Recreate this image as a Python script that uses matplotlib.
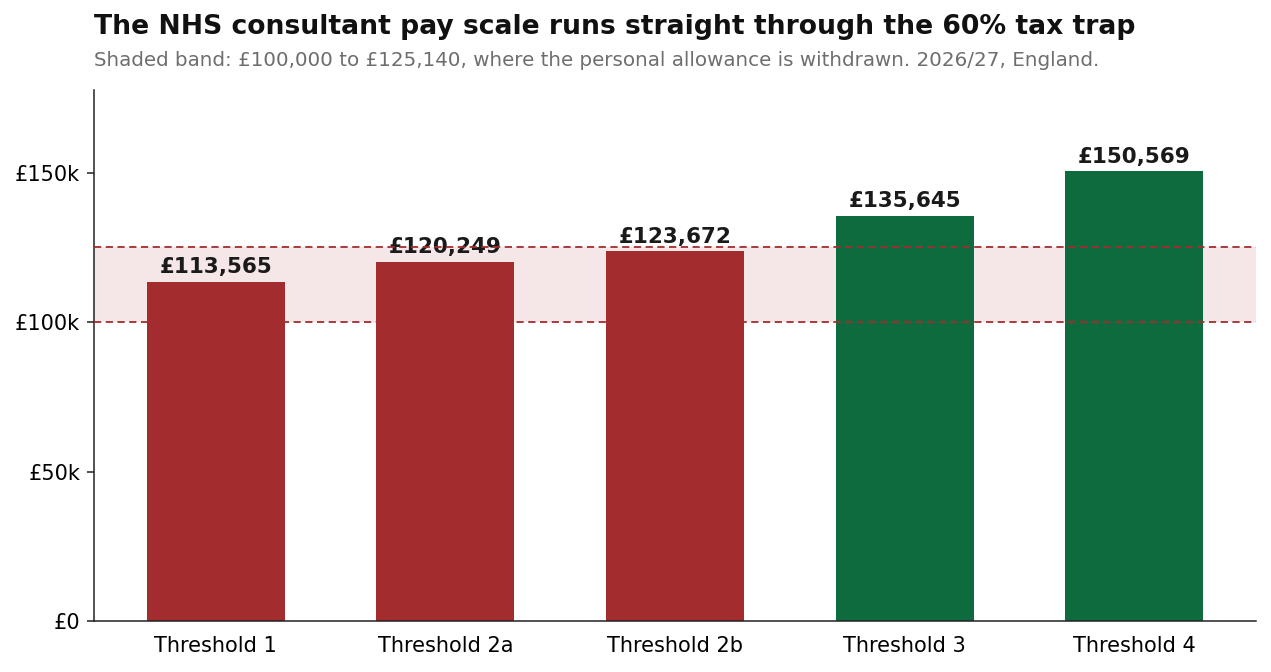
import matplotlib
matplotlib.use('agg')
import matplotlib.pyplot as plt
from matplotlib.ticker import FuncFormatter

thresholds = ['Threshold 1', 'Threshold 2a', 'Threshold 2b', 'Threshold 3', 'Threshold 4']
pay = [113565, 120249, 123672, 135645, 150569]
band_low = 100000
band_high = 125140

RED = '#a32c2f'
GREEN = '#0e6b3e'


def main():
    plt.rcParams['font.family'] = ['DejaVu Sans']
    fig = plt.figure(figsize=(12.71, 6.72), dpi=100)
    ax = fig.add_axes([94 / 1271, 1 - 621 / 672, (1256 - 94) / 1271, (621 - 90) / 672])

    colours = [RED if v <= band_high else GREEN for v in pay]
    x = list(range(len(pay)))
    ax.bar(x, pay, width=0.6, color=colours, zorder=2)

    ax.axhspan(band_low, band_high, color='#f5e6e7', zorder=1, lw=0)
    for y in (band_low, band_high):
        ax.axhline(y, color=RED, ls=(0, (4, 2.5)), lw=1.3, zorder=4)

    for xi, v in zip(x, pay):
        ax.text(xi, v + 1500, '£{:,}'.format(v), ha='center', va='bottom',
                fontsize=15.5, fontweight='bold', color='#1a1a1a', zorder=3)

    ax.set_ylim(0, max(pay) * 1.18)
    ax.set_xticks(x)
    ax.set_xticklabels(thresholds)
    ax.set_yticks([0, 50000, 100000, 150000])
    ax.yaxis.set_major_formatter(FuncFormatter(lambda v, p: '£0' if v == 0 else '£{:.0f}k'.format(v / 1000)))
    ax.tick_params(axis='x', labelsize=15, length=0, pad=11)
    ax.tick_params(axis='y', labelsize=15, length=5, width=1.1, pad=5, color='#222222')
    for s in ('top', 'right'):
        ax.spines[s].set_visible(False)
    for s in ('left', 'bottom'):
        ax.spines[s].set_color('#222222')
        ax.spines[s].set_linewidth(1.1)

    fig.text(94 / 1271, 1 - 27 / 672, 'The NHS consultant pay scale runs straight through the 60% tax trap',
             fontsize=19.2, fontweight='bold', color='#111111', va='center')
    fig.text(94 / 1271, 1 - 60 / 672,
             'Shaded band: £100,000 to £125,140, where the personal allowance is withdrawn. 2026/27, England.',
             fontsize=14.3, color='#6e6e6e', va='center')

    fig.savefig('out.png', dpi=100)


if __name__ == '__main__':
    main()
